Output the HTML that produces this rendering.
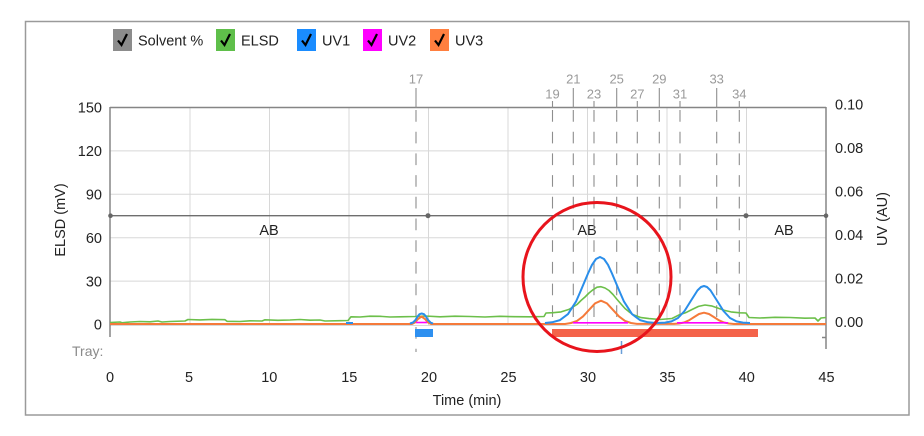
<!DOCTYPE html>
<html><head><meta charset="utf-8"><style>
html,body{margin:0;padding:0;background:#fff;}
svg{display:block;font-family:"Liberation Sans",sans-serif;}
</style></head><body>
<svg width="924" height="436" viewBox="0 0 924 436" xmlns="http://www.w3.org/2000/svg">
<rect x="0" y="0" width="924" height="436" fill="#fff"/>
<rect x="25.5" y="21.5" width="883.5" height="393.5" fill="none" stroke="#9a9a9a" stroke-width="1.5"/>

<!-- legend -->
<g font-size="14.5" fill="#222">
<rect x="113" y="29" width="19" height="22" fill="#8c8c8c"/>
<path d="M118,40.5 L121.5,45 L127,34" fill="none" stroke="#000" stroke-width="2.2"/>
<text x="138" y="45.5">Solvent %</text>
<rect x="216" y="29" width="19" height="22" fill="#5fbf4a"/>
<path d="M221,40.5 L224.5,45 L230,34" fill="none" stroke="#000" stroke-width="2.2"/>
<text x="241" y="45.5">ELSD</text>
<rect x="297" y="29" width="19" height="22" fill="#1a8cff"/>
<path d="M302,40.5 L305.5,45 L311,34" fill="none" stroke="#000" stroke-width="2.2"/>
<text x="322" y="45.5">UV1</text>
<rect x="363" y="29" width="19" height="22" fill="#ff00ff"/>
<path d="M368,40.5 L371.5,45 L377,34" fill="none" stroke="#000" stroke-width="2.2"/>
<text x="388" y="45.5">UV2</text>
<rect x="430" y="29" width="19" height="22" fill="#ff7f3f"/>
<path d="M435,40.5 L438.5,45 L444,34" fill="none" stroke="#000" stroke-width="2.2"/>
<text x="455" y="45.5">UV3</text>
</g>

<!-- grid -->
<g stroke="#d8d8d8" stroke-width="1">
<line x1="110" y1="150.9" x2="826" y2="150.9"/>
<line x1="110" y1="194.3" x2="826" y2="194.3"/>
<line x1="110" y1="237.7" x2="826" y2="237.7"/>
<line x1="110" y1="281.1" x2="826" y2="281.1"/>
<line x1="110" y1="325.5" x2="826" y2="325.5"/>
<line x1="190" y1="107" x2="190" y2="326"/>
<line x1="269.5" y1="107" x2="269.5" y2="326"/>
<line x1="349" y1="107" x2="349" y2="326"/>
<line x1="428.5" y1="107" x2="428.5" y2="326"/>
<line x1="508" y1="107" x2="508" y2="326"/>
<line x1="587.5" y1="107" x2="587.5" y2="326"/>
<line x1="667" y1="107" x2="667" y2="326"/>
<line x1="746.5" y1="107" x2="746.5" y2="326"/>
</g>

<!-- axes frame -->
<g stroke="#858585" stroke-width="1.5" fill="none">
<line x1="110" y1="107.5" x2="826" y2="107.5"/>
<line x1="110" y1="107" x2="110" y2="337"/>
<line x1="826" y1="107" x2="826" y2="349"/>
<line x1="822" y1="337.5" x2="826" y2="337.5"/>
</g>

<!-- solvent line -->
<line x1="110" y1="215.7" x2="826" y2="215.7" stroke="#6e6e6e" stroke-width="1.3"/>
<g fill="#666">
<circle cx="110.5" cy="215.7" r="2.3"/>
<circle cx="428" cy="215.7" r="2.5"/>
<circle cx="746" cy="215.7" r="2.5"/>
<circle cx="826" cy="215.7" r="2.3"/>
</g>
<g font-size="14.5" fill="#222" text-anchor="middle">
<text x="269" y="235">AB</text>
<text x="587" y="235">AB</text>
<text x="784" y="235">AB</text>
</g>

<!-- fraction lines -->
<g stroke="#8e8e8e" stroke-width="1.1">
<line x1="416" y1="88" x2="416" y2="108"/>
<line x1="573.3" y1="88" x2="573.3" y2="108"/>
<line x1="616.7" y1="88" x2="616.7" y2="108"/>
<line x1="659.3" y1="88" x2="659.3" y2="108"/>
<line x1="716.7" y1="88" x2="716.7" y2="108"/>
<line x1="552.5" y1="101" x2="552.5" y2="108"/>
<line x1="594" y1="101" x2="594" y2="108"/>
<line x1="637.3" y1="101" x2="637.3" y2="108"/>
<line x1="680" y1="101" x2="680" y2="108"/>
<line x1="739.3" y1="101" x2="739.3" y2="108"/>
</g>
<g stroke="#8e8e8e" stroke-width="1.1" stroke-dasharray="11.7 10">
<line x1="416" y1="110" x2="416" y2="352"/>
<line x1="552.5" y1="110" x2="552.5" y2="325"/>
<line x1="573.3" y1="110" x2="573.3" y2="325"/>
<line x1="594" y1="110" x2="594" y2="325"/>
<line x1="616.7" y1="110" x2="616.7" y2="325"/>
<line x1="637.3" y1="110" x2="637.3" y2="325"/>
<line x1="659.3" y1="110" x2="659.3" y2="325"/>
<line x1="680" y1="110" x2="680" y2="325"/>
<line x1="716.7" y1="110" x2="716.7" y2="325"/>
<line x1="739.3" y1="110" x2="739.3" y2="325"/>
</g>
<g font-size="13" fill="#9a9a9a" text-anchor="middle">
<text x="416" y="83.5">17</text>
<text x="573.3" y="83.5">21</text>
<text x="616.7" y="83.5">25</text>
<text x="659.3" y="83.5">29</text>
<text x="716.7" y="83.5">33</text>
<text x="552.5" y="98.5">19</text>
<text x="594" y="98.5">23</text>
<text x="637.3" y="98.5">27</text>
<text x="680" y="98.5">31</text>
<text x="739.3" y="98.5">34</text>
</g>

<!-- ELSD green -->
<path fill="none" stroke="#6cbf4a" stroke-width="1.6" stroke-linejoin="round" d="M110,322.5 L120,322 L122,322.8 L130,322 L140,321.5 L150,321.8 L158,321 L162,322 L170,321.5 L185,321 L188,319.5 L200,319.9 L212,319.4 L225,319.7 L227,321.3 L240,321.5 L250,320.8 L262,321 L265,319.8 L278,320.3 L290,320 L300,319.5 L310,320.2 L320,320 L325,321 L340,320.7 L348,320.5 L351,316.8 L360,317 L370,316.2 L380,316.3 L390,317 L400,316.8 L415,316.5 L425,316 L440,316.8 L455,316.2 L470,316.5 L485,317 L500,316.3 L515,316.7 L530,316.8 L544,316.5 L546,313 L553,312.7 L561,311.9 L569,309.4 L577,304.5 L581,300.5 L585,297 L589,293 L593,289.8 L597,287.2 L601,286.7 L605,288 L609,290.5 L613,294.5 L617,299.4 L621,304 L625,308.5 L629,311.8 L633,314.6 L641,317.6 L649,318.6 L660,319.5 L672,318.5 L679,314.9 L685.5,312.8 L692,309.5 L698.5,306.4 L705,305 L711.5,305.9 L718,308.1 L724.5,310.4 L731,311.9 L740,312.8 L746,313 L749,317.5 L760,318 L775,317.3 L790,317.5 L805,318.2 L815,318 L818,321 L821,318 L826,317.5"/>

<!-- UV3 orange -->
<path fill="none" stroke="#f57a3a" stroke-width="2" stroke-linejoin="round" d="M110,324 L412,324 L415,322.5 L418,319 L421.5,316.5 L425,319 L428,322.5 L431,324 L565,324 L571,323 L577,320.9 L583,316.4 L589,309.9 L595,303.4 L601,300.7 L607,303.4 L613,309.9 L619,316.4 L625,320.9 L631,323 L637,323.9 L674,323.9 L679,323.5 L684,322.5 L689,320.3 L694,317.1 L699,314 L704,312.7 L709,314 L714,317.1 L719,320.3 L724,322.5 L729,323.5 L734,324 L826,324"/>

<!-- UV2 magenta -->
<g stroke="#ff00ff" stroke-width="1.6">
<line x1="573" y1="322.8" x2="628" y2="322.8"/>
<line x1="677" y1="322.8" x2="728" y2="322.8"/>
<line x1="416" y1="322.5" x2="427" y2="322.5"/>
</g>

<!-- UV1 blue -->
<g fill="none" stroke="#2a8eea" stroke-width="2" stroke-linejoin="round">
<path d="M545,323 L552,322.3 L560,320.1 L568,314.1 L576,301.6 L580,292.5 L584,283 L588,273.5 L592,264.8 L596,259 L600,257 L604,259 L608,264.8 L612,273.5 L616,283 L620,292.5 L624,301.6 L632,314.1 L640,320.1 L648,322.3 L656,323 L665,322.6 L671.5,321.4 L678,318 L684.5,311 L691,300.6 L697.5,290.4 L701,287 L704,286 L707,287 L710.5,290.4 L717,300.6 L723.5,311 L730,318 L736.5,321.4 L743,322.6 L750,323"/>
<path d="M410,323.5 L413,322.5 L415.5,320 L417.5,316.5 L419.5,314.2 L421.7,313.5 L424,314.2 L426,316.5 L428,320 L430.5,322.5 L433,323.5"/>
<line x1="346" y1="323" x2="353" y2="323"/>
</g>

<!-- tray -->
<rect x="552" y="329" width="206" height="8" fill="#f4634a"/>
<rect x="415" y="329" width="18" height="8" fill="#2e90f0"/>
<line x1="621.5" y1="341" x2="621.5" y2="354" stroke="#6a9fd8" stroke-width="1.5"/>
<text x="72" y="356" font-size="14" fill="#8a8a8a">Tray:</text>

<!-- left axis labels -->
<g font-size="14.5" fill="#222" text-anchor="end">
<text x="102" y="112.5">150</text>
<text x="102" y="156">120</text>
<text x="102" y="199.5">90</text>
<text x="102" y="243">60</text>
<text x="102" y="286.5">30</text>
<text x="102" y="329.5">0</text>
</g>
<!-- right axis labels -->
<g font-size="14.5" fill="#222">
<text x="835" y="109.5">0.10</text>
<text x="835" y="153">0.08</text>
<text x="835" y="196.5">0.06</text>
<text x="835" y="240">0.04</text>
<text x="835" y="283.5">0.02</text>
<text x="835" y="327">0.00</text>
</g>
<text transform="translate(65,220) rotate(-90)" font-size="14.5" fill="#222" text-anchor="middle">ELSD (mV)</text>
<text transform="translate(887,219) rotate(-90)" font-size="14.5" fill="#222" text-anchor="middle">UV (AU)</text>

<!-- x axis labels -->
<g font-size="14.5" fill="#222" text-anchor="middle">
<text x="110" y="382">0</text>
<text x="189" y="382">5</text>
<text x="269.3" y="382">10</text>
<text x="349.3" y="382">15</text>
<text x="429" y="382">20</text>
<text x="508.5" y="382">25</text>
<text x="588" y="382">30</text>
<text x="667.5" y="382">35</text>
<text x="746.7" y="382">40</text>
<text x="826.5" y="382">45</text>
<text x="467" y="405">Time (min)</text>
</g>

<!-- red circle -->
<ellipse cx="597" cy="277" rx="74" ry="74.5" fill="none" stroke="#e8141c" stroke-width="3"/>
</svg>
</body></html>
